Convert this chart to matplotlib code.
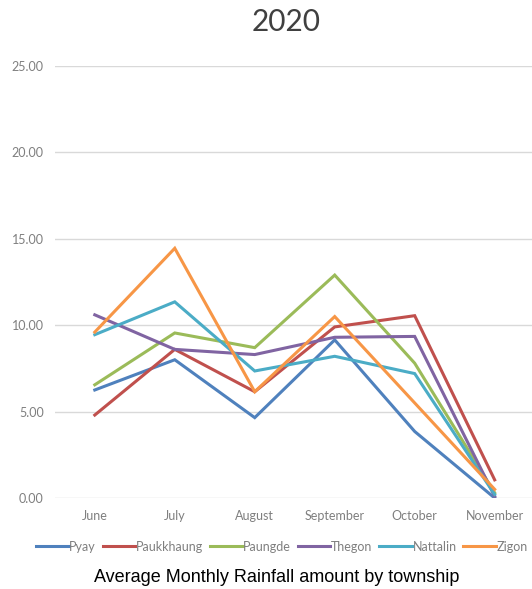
import matplotlib.pyplot as plt

months = ['June', 'July', 'August', 'September', 'October', 'November']
townships = ['Pyay', 'Paukkhaung', 'Paungde', 'Thegon', 'Nattalin', 'Zigon']

pyay = [6.25, 8.0, 4.65, 9.15, 3.85, 0.0]
paukkhaung = [4.8, 8.6, 6.15, 9.9, 10.55, 1.05]
paungde = [6.55, 9.55, 8.7, 12.9, 7.8, 0.3]
thegon = [10.6, 8.6, 8.3, 9.3, 9.35, 0.1]
nattalin = [9.45, 11.35, 7.35, 8.2, 7.2, 0.2]
zigon = [9.6, 14.45, 6.15, 10.5, 5.5, 0.5]

series = [pyay, paukkhaung, paungde, thegon, nattalin, zigon]
colors = ['#4F81BD', '#C0504D', '#9BBB59', '#8064A2', '#4BACC6', '#F79646']

fig = plt.figure(figsize=(5.32, 5.89), dpi=100)
ax = fig.add_axes([0.103, 0.1545, 0.902, 0.7335])

x = list(range(len(months)))
for name, vals, c in zip(townships, series, colors):
    ax.plot(x, vals, color=c, linewidth=2.2, label=name, solid_joinstyle='miter')

ax.set_xlim(-0.5, 5.5)
ax.set_ylim(0, 25)
ax.set_yticks([0, 5, 10, 15, 20, 25])
ax.set_yticklabels(['%.2f' % v for v in [0, 5, 10, 15, 20, 25]])
ax.set_xticks(x)
ax.set_xticklabels(months)
ax.grid(axis='y', color='#D9D9D9', linewidth=1)
ax.set_axisbelow(True)
for s in ax.spines.values():
    s.set_visible(False)
ax.tick_params(length=0, labelsize=9, labelcolor='#7F7F7F')
ax.tick_params(axis='x', pad=9)
ax.tick_params(axis='y', pad=8)
for lab in ax.get_xticklabels() + ax.get_yticklabels():
    lab.set_family('Lato')

# chart title
fig.text(0.538, 0.963, '2020', ha='center', va='center', fontsize=21.5,
         color='#404040', family='Lato')

# legend below the axis
ax.legend(loc='center', bbox_to_anchor=(0.53, 0.072), bbox_transform=fig.transFigure,
          ncol=6, frameon=False, handlelength=2.6, handletextpad=0.05,
          columnspacing=0.55, prop={'family': 'Lato', 'size': 9},
          labelcolor='#7F7F7F')

fig.text(0.521, 0.02, 'Average Monthly Rainfall amount by township', ha='center',
         va='center', fontsize=13, color='black', family='Liberation Sans')

fig.savefig('out.png', dpi=100)
